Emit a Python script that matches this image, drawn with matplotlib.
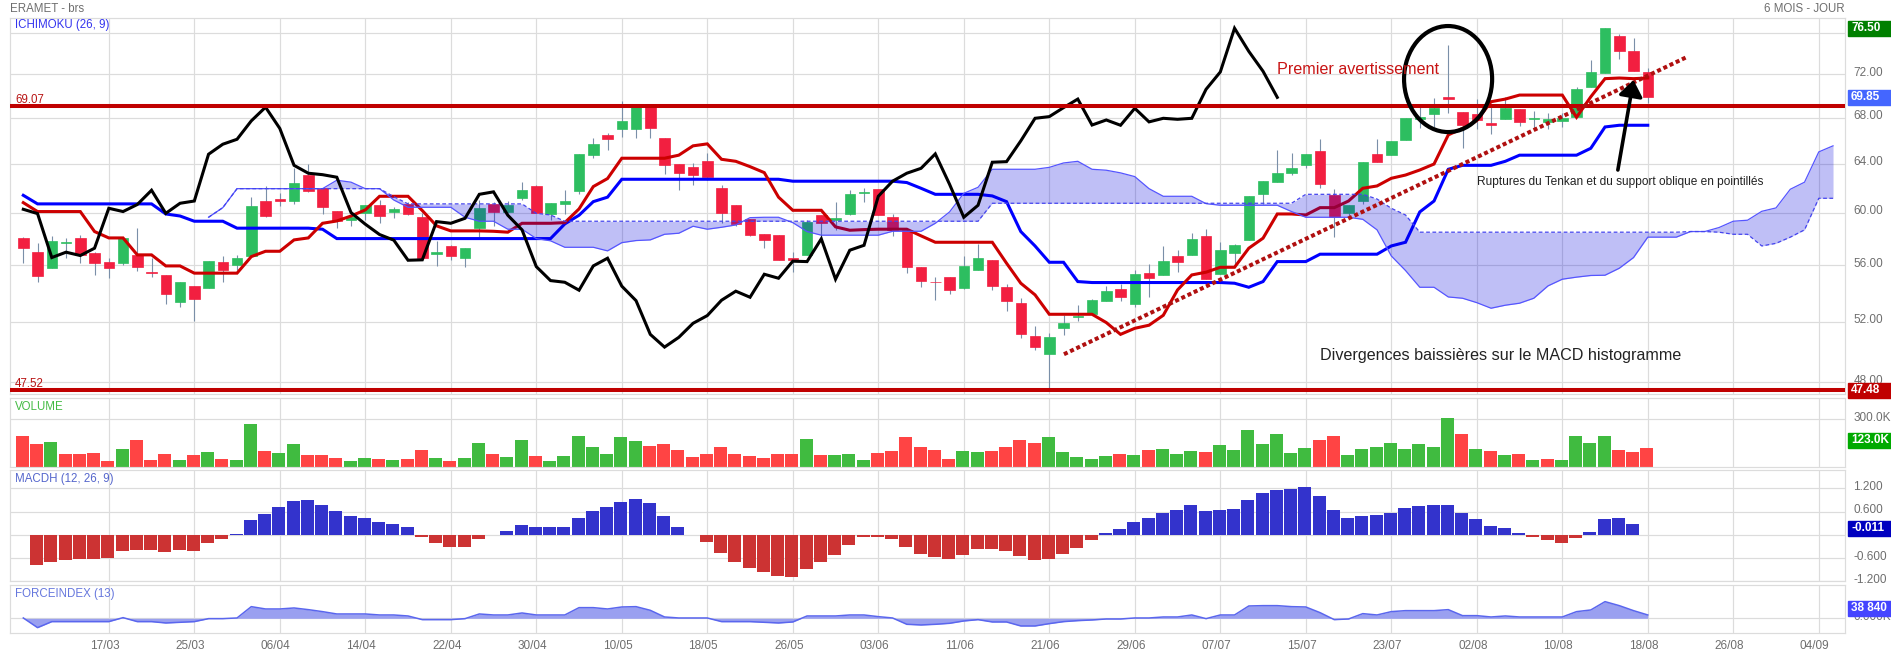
#!/usr/bin/env python3
"""ERAMET daily chart: ichimoku, volume, MACD histogram and force index"""

import matplotlib
matplotlib.use('Agg')
import matplotlib.pyplot as plt
from matplotlib.patches import Ellipse
from matplotlib.ticker import NullLocator
from matplotlib.transforms import ScaledTranslation

plt.rcParams['font.family'] = ['Liberation Sans', 'DejaVu Sans']

W, H = 1891, 653
LEFT, RIGHT = 10, 1845
X_MIN, X_MAX = -0.933, 127.84

# prices
opens = [
    58.03, 57.02, 55.78, 57.70, 58.03, 56.89, 56.27, 56.20, 56.77, 55.50,
    55.27, 53.38, 54.48, 54.38, 56.22, 56.05, 56.72, 60.92, 61.08, 60.97,
    63.04, 62.03, 60.18, 59.44, 59.96, 60.60, 60.10, 60.71, 59.65, 56.80,
    57.42, 56.52, 58.85, 60.71, 60.10, 61.22, 62.13, 59.94, 60.73, 61.78,
    64.78, 66.45, 66.97, 66.97, 69.03, 66.19, 63.96, 63.70, 64.21, 61.97,
    60.60, 59.49, 58.33, 58.26, 56.52, 56.79, 59.81, 59.47, 59.94, 61.60,
    61.89, 59.65, 58.67, 55.85, 54.81, 55.13, 54.38, 55.68, 56.37, 54.40,
    53.27, 51.00, 49.81, 51.54, 52.34, 52.55, 53.45, 54.26, 53.24, 55.42,
    55.25, 56.67, 56.79, 58.18, 55.34, 56.94, 57.88, 61.53, 62.52, 63.26,
    63.87, 65.07, 61.43, 59.96, 60.97, 64.81, 64.78, 66.07, 67.92, 68.35,
    69.87, 68.49, 68.31, 67.50, 67.92, 68.76, 67.86, 67.63, 67.74, 68.04,
    70.84, 72.16, 75.74, 74.21, 72.25,
]
highs = [
    58.11, 57.67, 58.21, 58.03, 58.28, 57.02, 56.52, 58.03, 58.80, 56.52,
    55.27, 54.76, 54.48, 56.30, 56.69, 56.77, 61.25, 62.16, 61.62, 63.62,
    63.96, 62.03, 60.18, 59.96, 60.60, 61.02, 60.49, 60.89, 59.96, 57.83,
    57.52, 57.27, 61.02, 60.89, 60.94, 62.49, 62.24, 60.76, 61.81, 64.81,
    66.19, 66.62, 69.51, 69.05, 69.07, 66.19, 63.96, 64.04, 64.90, 62.24,
    60.60, 59.49, 58.33, 58.26, 56.97, 59.44, 59.81, 60.86, 61.81, 61.97,
    61.89, 59.88, 58.67, 55.85, 55.13, 55.13, 56.69, 57.57, 56.37, 54.64,
    53.62, 51.70, 51.25, 52.46, 53.15, 53.57, 54.50, 54.64, 55.63, 56.07,
    57.44, 57.12, 58.44, 58.75, 57.72, 57.57, 61.32, 62.55, 65.18, 64.90,
    64.84, 66.13, 61.92, 60.60, 64.13, 66.13, 65.96, 67.95, 69.00, 69.75,
    74.85, 68.49, 69.69, 69.00, 69.90, 68.76, 68.61, 68.40, 68.40, 70.77,
    73.36, 76.50, 75.90, 75.50, 72.57,
]
lows = [
    56.20, 54.81, 55.78, 56.57, 56.20, 55.25, 55.10, 56.02, 55.61, 55.17,
    53.18, 53.03, 52.07, 54.38, 54.81, 55.66, 56.64, 59.65, 60.57, 60.71,
    61.70, 59.88, 58.80, 59.00, 59.44, 59.23, 59.62, 59.83, 56.57, 55.97,
    56.40, 55.90, 58.15, 58.98, 59.96, 61.02, 59.96, 59.44, 59.94, 61.48,
    64.52, 65.18, 66.27, 66.24, 66.19, 63.11, 61.83, 62.24, 62.66, 59.23,
    58.93, 58.21, 57.32, 56.37, 55.54, 56.79, 57.90, 58.67, 59.86, 60.84,
    59.81, 58.21, 55.46, 54.45, 53.52, 53.95, 54.29, 55.68, 54.17, 52.76,
    50.91, 50.12, 47.60, 51.11, 52.07, 52.55, 53.45, 53.45, 52.99, 53.74,
    55.25, 55.54, 56.79, 54.98, 55.34, 55.90, 57.88, 60.71, 62.52, 63.06,
    63.62, 62.03, 58.15, 59.57, 60.71, 64.18, 64.78, 66.07, 67.06, 67.21,
    68.47, 65.38, 66.97, 66.56, 67.92, 67.30, 66.91, 66.97, 67.15, 68.04,
    70.77, 72.16, 73.47, 72.29, 69.37,
]
closes = [
    57.27, 55.20, 57.80, 57.75, 56.77, 56.15, 55.78, 58.03, 55.85, 55.40,
    53.90, 54.76, 53.55, 56.30, 55.68, 56.52, 60.52, 59.78, 60.92, 62.38,
    61.78, 60.44, 59.39, 59.70, 60.60, 59.78, 60.28, 59.94, 56.57, 56.97,
    56.72, 57.27, 60.36, 60.10, 60.66, 61.81, 59.96, 60.76, 60.94, 64.81,
    65.67, 66.10, 67.72, 68.95, 67.05, 63.87, 63.21, 63.09, 62.88, 60.02,
    59.11, 58.31, 57.88, 56.37, 56.40, 59.31, 59.18, 59.57, 61.48, 61.68,
    59.81, 58.67, 55.90, 54.88, 54.76, 54.19, 55.95, 56.52, 54.48, 53.45,
    51.13, 50.28, 50.93, 51.88, 52.41, 53.48, 54.12, 53.69, 55.34, 55.05,
    56.30, 56.27, 57.98, 54.98, 57.12, 57.49, 61.32, 62.55, 63.21, 63.62,
    64.84, 62.30, 59.65, 60.60, 64.13, 64.18, 65.96, 67.95, 68.10, 68.91,
    69.69, 67.35, 67.80, 67.33, 68.85, 67.63, 67.95, 67.86, 67.95, 70.59,
    72.22, 76.50, 74.21, 72.29, 69.85,
]

# ichimoku
tenkan = [
    60.81, 60.10, 60.10, 60.10, 60.10, 58.54, 58.05, 58.05, 56.77, 56.77,
    55.95, 55.95, 55.42, 55.42, 55.42, 55.42, 56.64, 57.04, 57.04, 57.90,
    58.05, 59.18, 59.36, 59.75, 60.23, 61.32, 61.32, 61.32, 60.18, 58.98,
    58.59, 58.59, 58.59, 58.56, 58.49, 59.18, 59.18, 59.18, 59.23, 60.31,
    62.11, 62.77, 64.47, 64.47, 64.47, 64.47, 64.73, 65.53, 65.70, 64.38,
    64.21, 63.76, 63.26, 61.25, 60.20, 60.20, 60.20, 58.90, 58.64, 58.69,
    58.72, 58.72, 58.72, 58.21, 57.72, 57.72, 57.72, 57.72, 57.72, 56.15,
    54.69, 53.86, 52.50, 52.50, 52.50, 52.50, 51.93, 51.13, 51.54, 51.75,
    52.43, 54.21, 55.29, 55.49, 55.85, 55.85, 57.27, 58.03, 59.91, 59.91,
    59.83, 60.41, 60.41, 60.94, 61.97, 62.16, 62.79, 63.06, 63.48, 63.98,
    66.48, 67.06, 67.74, 69.45, 69.69, 70.06, 70.06, 70.06, 70.06, 68.04,
    69.90, 71.59, 71.65, 71.59, 71.65,
]
kijun = [
    61.40, 60.71, 60.71, 60.71, 60.71, 60.71, 60.71, 60.71, 60.71, 60.71,
    59.91, 59.75, 59.34, 59.34, 59.34, 58.80, 58.80, 58.80, 58.80, 58.80,
    58.80, 58.72, 58.00, 58.00, 58.00, 58.00, 58.00, 58.00, 58.00, 58.00,
    58.00, 58.00, 58.00, 58.00, 58.00, 58.00, 58.00, 58.00, 59.13, 59.81,
    60.89, 61.25, 62.71, 62.71, 62.71, 62.71, 62.71, 62.71, 62.71, 62.71,
    62.71, 62.71, 62.71, 62.71, 62.55, 62.55, 62.55, 62.55, 62.55, 62.55,
    62.55, 62.55, 62.44, 61.97, 61.48, 61.48, 61.48, 61.48, 61.35, 60.89,
    58.54, 57.44, 56.22, 56.22, 54.81, 54.74, 54.74, 54.74, 54.74, 54.74,
    54.74, 54.74, 54.74, 54.74, 54.74, 54.69, 54.40, 54.81, 56.27, 56.27,
    56.27, 56.82, 56.82, 56.82, 56.82, 56.82, 57.44, 57.72, 60.07, 60.94,
    63.54, 63.87, 63.87, 63.87, 64.21, 64.73, 64.73, 64.73, 64.73, 64.73,
    65.32, 67.18, 67.33, 67.33, 67.33,
]
span_start = 13
span_a = [
    59.65, 60.41, 61.94, 61.94, 61.94, 61.94, 61.94, 61.94, 61.94, 62.63,
    62.47, 61.94, 61.94, 61.02, 60.44, 60.44, 60.44, 60.44, 59.65, 59.34,
    59.34, 58.72, 58.72, 58.00, 57.83, 57.34, 57.34, 57.34, 57.07, 57.69,
    57.85, 57.90, 58.33, 58.41, 58.95, 58.72, 58.87, 59.05, 59.62, 59.65,
    59.65, 59.23, 58.54, 58.26, 58.26, 58.26, 58.26, 58.26, 58.56, 58.56,
    58.56, 59.18, 60.07, 61.56, 62.05, 63.54, 63.54, 63.54, 63.54, 63.70,
    64.07, 64.21, 63.54, 63.46, 63.24, 62.93, 61.94, 61.32, 61.32, 61.32,
    60.73, 60.60, 60.60, 60.60, 60.60, 60.60, 60.10, 59.65, 59.65, 59.65,
    59.65, 59.49, 58.67, 56.69, 55.61, 54.40, 54.40, 53.71, 53.62, 53.31,
    52.92, 53.13, 53.27, 53.62, 54.50, 54.98, 55.13, 55.25, 55.27, 55.78,
    56.57, 58.11, 58.11, 58.11, 58.54, 58.54, 58.85, 59.34, 59.42, 60.12,
    60.39, 61.89, 62.47, 65.01, 65.53,
]
span_b = [
    59.65, 60.41, 61.94, 61.94, 61.94, 61.94, 61.94, 61.94, 61.94, 61.94,
    61.94, 61.94, 61.94, 61.29, 60.71, 60.71, 60.71, 60.71, 60.71, 60.71,
    60.71, 60.71, 60.71, 59.96, 59.83, 59.34, 59.34, 59.34, 59.34, 59.34,
    59.34, 59.34, 59.34, 59.34, 59.34, 59.34, 59.34, 59.34, 59.34, 59.34,
    59.34, 59.34, 59.34, 59.34, 59.34, 59.34, 59.34, 59.34, 59.34, 59.34,
    59.34, 59.34, 59.34, 59.34, 59.34, 60.76, 60.76, 60.76, 60.76, 60.76,
    60.76, 60.76, 60.76, 60.76, 60.76, 60.76, 60.76, 60.76, 60.76, 60.76,
    60.76, 60.76, 60.76, 60.76, 60.76, 60.76, 60.76, 61.48, 61.48, 61.48,
    61.48, 61.48, 61.10, 60.36, 59.83, 58.49, 58.49, 58.49, 58.49, 58.49,
    58.49, 58.49, 58.49, 58.49, 58.49, 58.49, 58.49, 58.49, 58.49, 58.49,
    58.49, 58.49, 58.49, 58.49, 58.54, 58.54, 58.49, 58.33, 58.33, 57.44,
    57.64, 58.11, 58.67, 61.16, 61.16,
]

# volume in thousands, r / g gives the bar colour
volume = [
    195, 149, 157, 82, 82, 92, 38, 113, 174, 48,
    86, 48, 80, 94, 50, 48, 269, 99, 90, 149,
    80, 80, 61, 40, 59, 55, 44, 50, 111, 61,
    38, 57, 153, 86, 65, 174, 69, 40, 73, 193,
    124, 82, 191, 164, 132, 149, 111, 63, 82, 126,
    82, 73, 61, 86, 86, 178, 80, 80, 86, 48,
    88, 105, 187, 130, 111, 55, 101, 94, 99, 124,
    168, 155, 187, 97, 65, 50, 73, 82, 80, 111,
    117, 84, 105, 94, 138, 111, 231, 145, 208, 92,
    120, 168, 199, 80, 113, 126, 155, 113, 145, 130,
    308, 206, 117, 99, 80, 82, 48, 55, 48, 199,
    151, 199, 111, 94, 123,
]
volume_sides = (
    "rrgrrrrgrr" "rgrgrggrgg" "rrrggrgrrg" "rggrggrggg" "ggggrrrrrr"
    "rrrrrgrggg" "rrrrrrggrr" "rrgggggrgr" "gggrgggggg" "grrggggggg"
    "grgrgrgrgg" "ggrrr"
)

macdh = [
    0.000, -0.771, -0.694, -0.643, -0.617, -0.617, -0.591, -0.411, -0.386, -0.386,
    -0.437, -0.386, -0.411, -0.206, -0.103, 0.026, 0.386, 0.540, 0.720, 0.874,
    0.900, 0.771, 0.617, 0.489, 0.437, 0.334, 0.283, 0.206, -0.051, -0.206,
    -0.309, -0.309, -0.103, 0.000, 0.103, 0.257, 0.206, 0.206, 0.206, 0.437,
    0.617, 0.720, 0.849, 0.926, 0.823, 0.489, 0.206, 0.000, -0.180, -0.463,
    -0.694, -0.849, -0.951, -1.054, -1.080, -0.874, -0.694, -0.514, -0.257, -0.051,
    -0.051, -0.103, -0.309, -0.489, -0.566, -0.617, -0.514, -0.360, -0.360, -0.411,
    -0.540, -0.643, -0.617, -0.489, -0.334, -0.129, 0.051, 0.154, 0.334, 0.437,
    0.566, 0.643, 0.771, 0.617, 0.643, 0.668, 0.900, 1.080, 1.157, 1.183,
    1.234, 1.003, 0.643, 0.437, 0.489, 0.514, 0.566, 0.694, 0.746, 0.771,
    0.771, 0.566, 0.411, 0.231, 0.180, 0.051, -0.051, -0.129, -0.206, -0.077,
    0.077, 0.411, 0.437, 0.283, 0.000,
]

# force index in thousands
force_index = [
    3.9, -108.8, -38.8, -38.8, -38.8, -38.8, -38.8, 7.8, -38.8, -38.8,
    -54.4, -46.6, -38.8, -3.9, -3.9, 3.9, 135.9, 108.8, 108.8, 120.4,
    101.0, 77.7, 50.5, 50.5, 50.5, 38.8, 38.8, 27.2, -15.5, -15.5,
    -15.5, -3.9, 50.5, 38.8, 38.8, 62.1, 38.8, 38.8, 38.8, 124.3,
    124.3, 108.8, 132.0, 135.9, 93.2, 15.5, 3.9, 3.9, 3.9, -38.8,
    -38.8, -38.8, -46.6, -54.4, -42.7, 27.2, 27.2, 27.2, 38.8, 38.8,
    19.4, 3.9, -69.9, -77.7, -69.9, -58.3, -31.1, -15.5, -42.7, -42.7,
    -89.3, -89.3, -62.1, -38.8, -27.2, -19.4, -7.8, -7.8, 3.9, 3.9,
    15.5, 15.5, 38.8, -3.9, 38.8, 38.8, 143.7, 147.6, 147.6, 135.9,
    132.0, 66.0, -15.5, -7.8, 54.4, 38.8, 77.7, 89.3, 89.3, 89.3,
    101.0, 31.1, 31.1, 15.5, 27.2, 15.5, 15.5, 15.5, 15.5, 77.7,
    97.1, 194.2, 147.6, 89.3, 38.84,
]

date_positions = [6, 12, 18, 24, 30, 36, 42, 48, 54, 60, 66, 72, 78, 84, 90, 96,
                  102, 108, 114, 120, 126]
date_labels = ['17/03', '25/03', '06/04', '14/04', '22/04', '30/04', '10/05', '18/05',
               '26/05', '03/06', '11/06', '21/06', '29/06', '07/07', '15/07', '23/07',
               '02/08', '10/08', '18/08', '26/08', '04/09']

price_ticks = [48, 52, 56, 60, 64, 68, 72, 76]
price_labels = ['48.00', '52.00', '56.00', '60.00', '64.00', '68.00', '72.00', '76.00']
volume_ticks = [300]
volume_labels = ['300.0K']
macd_ticks = [-1.2, -0.6, 0, 0.6, 1.2]
macd_labels = ['-1.200', '-0.600', '0.000', '0.600', '1.200']
force_ticks = [0]
force_labels = ['0.000K']

resistance = 69.07
support = 47.52
trend_x = [73.03, 116.7]
trend_y = [49.81, 73.63]

GRID = '#dcdcdc'
TEXT = '#6e6e6e'


def add_panel(fig, top, bottom, ylim, ticks, labels):
    """Axes placed by pixel rows, with the shared dates and grid"""
    ax = fig.add_axes([LEFT / W, 1 - bottom / H, (RIGHT - LEFT) / W, (bottom - top) / H])
    ax.set_xlim(X_MIN, X_MAX)
    return style_panel(ax, ylim, ticks, labels)


def style_panel(ax, ylim, ticks, labels):
    ax.set_ylim(*ylim)
    ax.set_xticks(date_positions)
    ax.set_xticklabels([])
    ax.yaxis.tick_right()
    ax.set_yticks(ticks)
    ax.set_yticklabels(labels)
    ax.yaxis.set_minor_locator(NullLocator())
    ax.tick_params(axis='both', length=0, colors=TEXT, labelsize=8.5, pad=6)
    ax.grid(True, color=GRID, linewidth=0.85)
    ax.set_axisbelow(True)
    for spine in ax.spines.values():
        spine.set_color(GRID)
        spine.set_linewidth(0.85)
    # labels sit a little above their grid line
    lift = ScaledTranslation(0, 3 / 100, ax.figure.dpi_scale_trans)
    for lab in ax.get_yticklabels():
        lab.set_transform(lab.get_transform() + lift)
    return ax


def price_box(fig, y, text, color, height=15):
    """Coloured value box on the right of a panel"""
    fig.patches.append(plt.Rectangle((1848 / W, 1 - (y + height / 2) / H), 43 / W, height / H,
                                     transform=fig.transFigure, color=color, zorder=10))
    fig.text(1851 / W, 1 - y / H, text, color='white', fontsize=8.5, fontweight='bold',
             va='center', ha='left', zorder=11)


def panel_title(fig, y, text, color):
    fig.text(15 / W, 1 - y / H, text, color=color, fontsize=8.3, va='center', ha='left')


def main():
    fig = plt.figure(figsize=(W / 100, H / 100), dpi=100, facecolor='white')
    xs = list(range(len(closes)))

    # ---- ichimoku ----
    ax = fig.add_axes([LEFT / W, 1 - 394 / H, (RIGHT - LEFT) / W, (394 - 17.7) / H])
    ax.set_yscale('log')
    ax.set_xlim(X_MIN, X_MAX)
    style_panel(ax, (47.27, 77.57), price_ticks, price_labels)

    colors = ['#2dbe60' if c >= o else '#f21f40' for o, c in zip(opens, closes)]
    ax.vlines(xs, lows, highs, color='#7a8fa8', linewidth=0.8, zorder=2)
    ax.bar(xs, [abs(c - o) for o, c in zip(opens, closes)], bottom=[min(o, c) for o, c in zip(opens, closes)],
           width=0.74, color=colors, edgecolor=colors, linewidth=0.5, zorder=2.5)

    ax.plot(xs, kijun, color='#0000ff', linewidth=2.2, zorder=3, solid_joinstyle='miter')
    ax.plot(xs, tenkan, color='#cc0000', linewidth=2.2, zorder=3, solid_joinstyle='miter')

    span_x = list(range(span_start, span_start + len(span_a)))
    ax.fill_between(span_x, span_a, span_b, color='#0000dd', alpha=0.25, linewidth=0, zorder=4)
    ax.plot(span_x, span_a, color='#5555ff', linewidth=0.9, zorder=4)
    ax.plot(span_x, span_b, color='#4444ee', linewidth=0.9, linestyle=(0, (3, 2)), zorder=4)

    # chikou is the close drawn 26 sessions back
    ax.plot(xs[:len(closes) - 26], closes[26:], color='black', linewidth=2.2, zorder=5,
            solid_joinstyle='miter')

    ax.axhline(resistance, color='#c00000', linewidth=2.9, zorder=6)
    ax.axhline(support, color='#c00000', linewidth=2.9, zorder=6)
    ax.plot(trend_x, trend_y, color='#b01010', linewidth=2.9, linestyle=(0, (1, 0.7)),
            dash_capstyle='butt', zorder=7)

    ax.add_patch(Ellipse((0.7837, 0.837), 0.048, 0.2817, transform=ax.transAxes, fill=False,
                         edgecolor='black', linewidth=3, zorder=8))
    ax.annotate('', xy=(113.0, 71.46), xytext=(111.9, 63.48),
                arrowprops=dict(arrowstyle='-|>,head_length=0.6,head_width=0.45', color='black',
                                lw=2.6, mutation_scale=16, shrinkA=0, shrinkB=0), zorder=8)

    fig.text(1277 / W, 1 - 69.3 / H, 'Premier avertissement', color='#c81414', fontsize=11.6,
             va='center', ha='left', zorder=9)
    fig.text(1477 / W, 1 - 181.7 / H, 'Ruptures du Tenkan et du support oblique en pointillés',
             color='#222222', fontsize=8.6, va='center', ha='left', zorder=9)
    fig.text(1320 / W, 1 - 355.7 / H, 'Divergences baissières sur le MACD histogramme',
             color='#222222', fontsize=11.6, va='center', ha='left', zorder=9)
    ax.text(0.0027, resistance, '69.07', color='#b81414', fontsize=8.3, va='bottom', ha='left',
            transform=ax.get_yaxis_transform(), zorder=9)
    ax.text(0.0027, support, '47.52', color='#b81414', fontsize=8.3, va='bottom', ha='left',
            transform=ax.get_yaxis_transform(), zorder=9)

    # ---- volume ----
    ax_vol = add_panel(fig, 398.3, 467.3, (0, 432), volume_ticks, volume_labels)
    vol_colors = ['#ff4444' if s == 'r' else '#40bb40' for s in volume_sides]
    ax_vol.bar([x - 0.06 for x in xs], volume, width=0.92, color=vol_colors, zorder=2)

    # ---- macd histogram ----
    ax_macd = add_panel(fig, 470.3, 581.3, (-1.19, 1.663), macd_ticks, macd_labels)
    macd_colors = ['#3333cc' if v >= 0 else '#cc3333' for v in macdh]
    ax_macd.bar([x - 0.06 for x in xs], macdh, width=0.92, color=macd_colors, zorder=2)

    # ---- force index ----
    ax_force = add_panel(fig, 585.3, 632.7, (-167.8, 384.6), force_ticks, force_labels)
    ax_force.fill_between(xs, force_index, 0, color='#9aa0f0', linewidth=0, zorder=2)
    ax_force.plot(xs, force_index, color='#5a66ee', linewidth=1.1, zorder=3)

    ax_force.set_xticklabels(date_labels)
    ax_force.tick_params(axis='x', pad=5, labelsize=8.5)
    shift = ScaledTranslation(-4 / 100, 0, fig.dpi_scale_trans)
    for lab in ax_force.get_xticklabels():
        lab.set_transform(lab.get_transform() + shift)

    # ---- header, panel titles, value boxes ----
    fig.text(10 / W, 1 - 9.5 / H, 'ERAMET - brs', color=TEXT, fontsize=8.3, va='center', ha='left')
    fig.text(RIGHT / W, 1 - 9.5 / H, '6 MOIS - JOUR', color=TEXT, fontsize=8.3, va='center', ha='right')
    panel_title(fig, 25, 'ICHIMOKU (26, 9)', '#3333ee')
    panel_title(fig, 406.7, 'VOLUME', '#44bb44')
    panel_title(fig, 479.3, 'MACDH (12, 26, 9)', '#5566cc')
    panel_title(fig, 593.7, 'FORCEINDEX (13)', '#6677dd')

    price_box(fig, 28.3, '76.50', '#008000')
    price_box(fig, 97.3, '69.85', '#4466ff')
    price_box(fig, 390, '47.48', '#c00000')
    price_box(fig, 440, '123.0K', '#00aa00')
    price_box(fig, 528.3, '-0.011', '#0000c0')
    price_box(fig, 608, '38 840', '#4444ff')

    fig.savefig('out.png', dpi=100)
    plt.close(fig)


if __name__ == "__main__":
    main()
